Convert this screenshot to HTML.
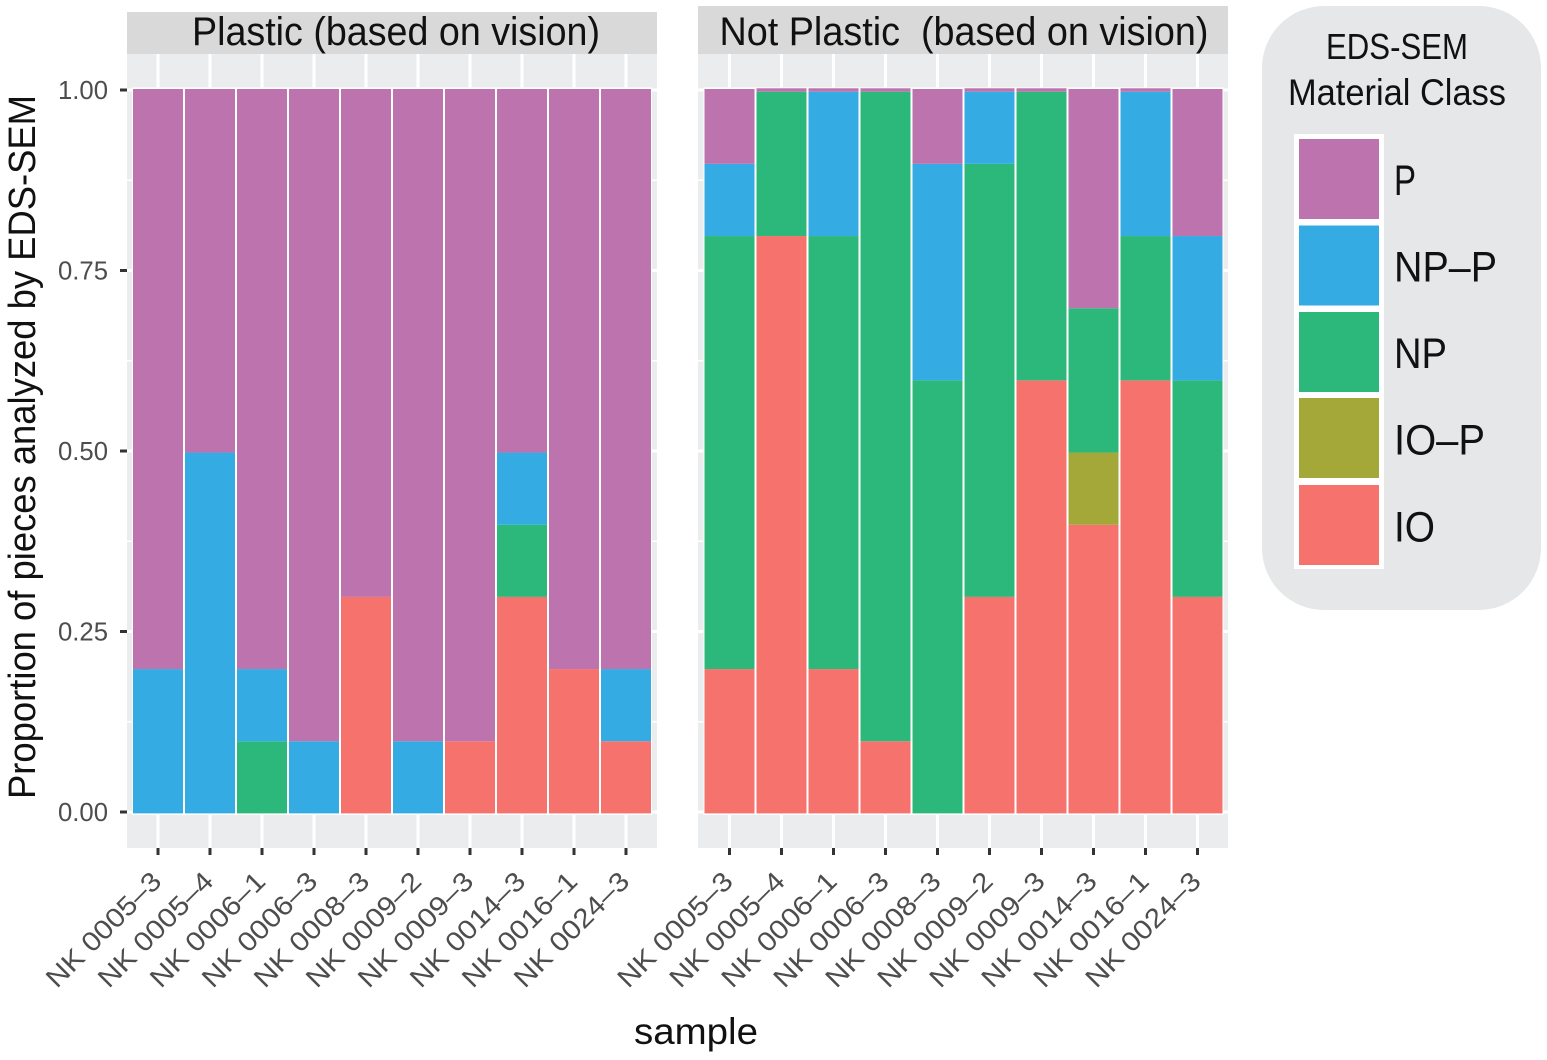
<!DOCTYPE html>
<html lang="en">
<head>
<meta charset="utf-8">
<title>EDS-SEM material class by sample</title>
<style>
html,body{margin:0;padding:0;background:#fff;}
svg{display:block;font-family:"Liberation Sans",sans-serif;}
</style>
</head>
<body>
<svg id="chart" xmlns="http://www.w3.org/2000/svg" width="1547" height="1060" viewBox="0 0 1547 1060">
  <rect x="0" y="0" width="1547" height="1060" fill="#ffffff"/>
  <g id="left-panel">
    <rect x="127" y="12" width="530" height="42" fill="#d9d9d9"/>
    <text x="396" y="45" font-size="40" text-anchor="middle" textLength="408" lengthAdjust="spacingAndGlyphs" fill="#111">Plastic (based on vision)</text>
    <rect x="127" y="54" width="530" height="794" fill="#ebecee"/>
  </g>
  <g id="right-panel">
    <rect x="698" y="6" width="530" height="48" fill="#d9d9d9"/>
    <text x="964" y="45" font-size="40" text-anchor="middle" textLength="489" lengthAdjust="spacingAndGlyphs" xml:space="preserve" fill="#111">Not Plastic  (based on vision)</text>
    <rect x="698" y="54" width="530" height="794" fill="#ebecee"/>
  </g>
  <text transform="translate(35,447) rotate(-90)" font-size="38" text-anchor="middle" textLength="704" lengthAdjust="spacingAndGlyphs" fill="#111">Proportion of pieces analyzed by EDS-SEM</text>
  <text x="696" y="1044" font-size="37" text-anchor="middle" textLength="124" lengthAdjust="spacingAndGlyphs" fill="#111">sample</text>

  <g>
    <rect x="1262" y="6" width="279" height="604" rx="62" ry="62" fill="#e6e7e8"/>
    <text x="1397" y="59" font-size="36" text-anchor="middle" textLength="142" lengthAdjust="spacingAndGlyphs" fill="#111">EDS-SEM</text>
    <text x="1397" y="105" font-size="37" text-anchor="middle" textLength="218" lengthAdjust="spacingAndGlyphs" fill="#111">Material Class</text>
    <rect x="1294" y="134" width="90" height="435" fill="#ffffff"/>
    <rect x="1299" y="139" width="80" height="80" fill="#bc73ae"/>
    <rect x="1299" y="225.500" width="80" height="80" fill="#34ace3"/>
    <rect x="1299" y="312" width="80" height="80" fill="#2db87b"/>
    <rect x="1299" y="398" width="80" height="80" fill="#a3a838"/>
    <rect x="1299" y="485" width="80" height="80" fill="#f6736d"/>
    <text x="1394" y="195" font-size="43" textLength="22" lengthAdjust="spacingAndGlyphs" fill="#111">P</text>
    <text x="1394" y="281.500" font-size="43" textLength="103" lengthAdjust="spacingAndGlyphs" fill="#111">NP–P</text>
    <text x="1394" y="368" font-size="43" textLength="53" lengthAdjust="spacingAndGlyphs" fill="#111">NP</text>
    <text x="1394" y="454.500" font-size="43" textLength="91" lengthAdjust="spacingAndGlyphs" fill="#111">IO–P</text>
    <text x="1394" y="541.500" font-size="43" textLength="41" lengthAdjust="spacingAndGlyphs" fill="#111">IO</text>
  </g>
</svg>
<script>
// Chart data: proportions per sample
const categories = ['NK 0005–3','NK 0005–4','NK 0006–1','NK 0006–3','NK 0008–3','NK 0009–2','NK 0009–3','NK 0014–3','NK 0016–1','NK 0024–3'];
const yTicks = [0, 0.25, 0.5, 0.75, 1];
const yTickLabels = ['0.00','0.25','0.50','0.75','1.00'];
const yMinorTicks = [0.125, 0.375, 0.625, 0.875];

// Stack order runs bottom to top: IO, IO-P, NP, NP-P, P
const plasticIO  = [0, 0, 0, 0, 0.3, 0, 0.1, 0.3, 0.2, 0.1];
const plasticIOP = [0, 0, 0, 0, 0, 0, 0, 0, 0, 0];
const plasticNP  = [0, 0, 0.1, 0, 0, 0, 0, 0.1, 0, 0];
const plasticNPP = [0.2, 0.5, 0.1, 0.1, 0, 0.1, 0, 0.1, 0, 0.1];
const plasticP   = [0.8, 0.5, 0.8, 0.9, 0.7, 0.9, 0.9, 0.5, 0.8, 0.8];

const notPlasticIO  = [0.2, 0.8, 0.2, 0.1, 0, 0.3, 0.6, 0.4, 0.6, 0.3];
const notPlasticIOP = [0, 0, 0, 0, 0, 0, 0, 0.1, 0, 0];
const notPlasticNP  = [0.6, 0.2, 0.6, 0.9, 0.6, 0.6, 0.4, 0.2, 0.2, 0.3];
const notPlasticNPP = [0.1, 0, 0.2, 0, 0.3, 0.1, 0, 0, 0.2, 0.2];
const notPlasticP   = [0.1, 0.001, 0.001, 0.001, 0.1, 0.001, 0.001, 0.3, 0.001, 0.2];

const seriesNames = ['io','io-p','np','np-p','p'];
const seriesColors = ['#f6736d','#a3a838','#2db87b','#34ace3','#bc73ae'];

const NS = 'http://www.w3.org/2000/svg';
const svg = document.getElementById('chart');

// Axis position used by ticks and gridlines
function yScale(v) { return 812 - v * 722; }
// Segment boundaries sit slightly lower than the tick marks in the reference
function barScale(v) { return 813.4 - v * 721.7; }
function xScale(panelCenterStart, i) { return panelCenterStart + i * 52; }

function drawPanel(group, prefix, panelLeft, firstCenter, stacks, showYAxis) {
  // minor horizontal gridlines
  yMinorTicks.forEach(function (t) {
    const el = document.createElementNS(NS, 'line');
    
    
    el.setAttribute('x1', panelLeft);
    el.setAttribute('x2', panelLeft + 530);
    el.setAttribute('y1', yScale(t));
    el.setAttribute('y2', yScale(t));
    el.setAttribute('stroke', '#ffffff');
    el.setAttribute('stroke-width', '1.5');
    group.appendChild(el);
  });
  // major horizontal gridlines
  yTicks.forEach(function (t) {
    const el = document.createElementNS(NS, 'line');
    
    
    el.setAttribute('x1', panelLeft);
    el.setAttribute('x2', panelLeft + 530);
    el.setAttribute('y1', yScale(t));
    el.setAttribute('y2', yScale(t));
    el.setAttribute('stroke', '#ffffff');
    el.setAttribute('stroke-width', '3');
    group.appendChild(el);
  });
  // vertical gridlines, ticks, and labels
  categories.forEach(function (c, i) {
    const x = xScale(firstCenter, i);
    const grid = document.createElementNS(NS, 'line');
    
    
    grid.setAttribute('x1', x);
    grid.setAttribute('x2', x);
    grid.setAttribute('y1', 54);
    grid.setAttribute('y2', 848);
    grid.setAttribute('stroke', '#ffffff');
    grid.setAttribute('stroke-width', '3');
    group.appendChild(grid);

    const tick = document.createElementNS(NS, 'line');
    
    
    tick.setAttribute('x1', x);
    tick.setAttribute('x2', x);
    tick.setAttribute('y1', 848);
    tick.setAttribute('y2', 855);
    tick.setAttribute('stroke', '#333333');
    tick.setAttribute('stroke-width', '3');
    group.appendChild(tick);

    const label = document.createElementNS(NS, 'text');
    
    
    label.setAttribute('transform', 'translate(' + (x + 5) + ',883) rotate(-45)');
    label.setAttribute('text-anchor', 'end');
    label.setAttribute('font-size', '27');
    label.setAttribute('textLength', '150');
    label.setAttribute('lengthAdjust', 'spacingAndGlyphs');
    label.setAttribute('fill', '#4d4d4d');
    label.textContent = c;
    group.appendChild(label);
  });
  // stacked bars
  categories.forEach(function (c, i) {
    const x = xScale(firstCenter, i);
    const backing = document.createElementNS(NS, 'rect');
    
    
    backing.setAttribute('x', x - 26);
    backing.setAttribute('width', 52);
    backing.setAttribute('y', 87.5);
    backing.setAttribute('height', 727.5);
    backing.setAttribute('fill', '#ffffff');
    group.appendChild(backing);

    let cumulative = 0;
    stacks.forEach(function (values, s) {
      const v = values[i];
      if (v <= 0) return;
      const topY = barScale(cumulative + v);
      const baseY = barScale(cumulative);
      // the top segment caps the column slightly above its nominal edge
      const cap = s === stacks.length - 1 ? 2.7 : 0;
      const bar = document.createElementNS(NS, 'rect');
      
      
      bar.setAttribute('x', x - 25);
      bar.setAttribute('width', 50);
      bar.setAttribute('y', topY - cap);
      bar.setAttribute('height', baseY - topY + cap);
      bar.setAttribute('fill', seriesColors[s]);
      group.appendChild(bar);
      cumulative += v;
    });
  });
  // y axis
  if (showYAxis) {
    yTicks.forEach(function (t, k) {
      const tick = document.createElementNS(NS, 'line');
      
      
      tick.setAttribute('x1', 120);
      tick.setAttribute('x2', 127);
      tick.setAttribute('y1', yScale(t));
      tick.setAttribute('y2', yScale(t));
      tick.setAttribute('stroke', '#333333');
      tick.setAttribute('stroke-width', '3');
      group.appendChild(tick);

      const label = document.createElementNS(NS, 'text');
      
      
      label.setAttribute('x', 108);
      label.setAttribute('y', yScale(t) + 9);
      label.setAttribute('text-anchor', 'end');
      label.setAttribute('font-size', '26');
      label.setAttribute('textLength', '50');
      label.setAttribute('lengthAdjust', 'spacingAndGlyphs');
      label.setAttribute('fill', '#4d4d4d');
      label.textContent = yTickLabels[k];
      group.appendChild(label);
    });
  }
}

drawPanel(document.getElementById('left-panel'), 'plastic', 127, 158,
  [plasticIO, plasticIOP, plasticNP, plasticNPP, plasticP], true);
drawPanel(document.getElementById('right-panel'), 'not-plastic', 698, 729.5,
  [notPlasticIO, notPlasticIOP, notPlasticNP, notPlasticNPP, notPlasticP], false);
</script>
</body>
</html>
